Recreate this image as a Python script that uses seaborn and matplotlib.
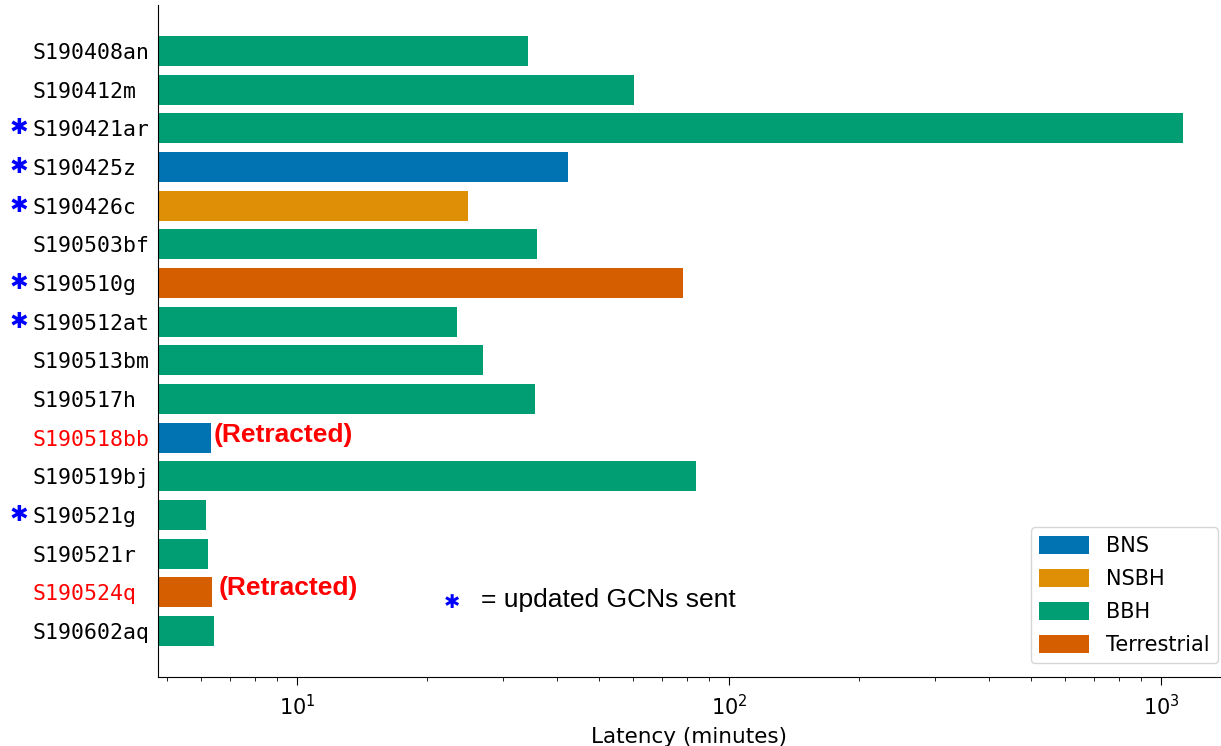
import numpy as np
import pandas as pd
import seaborn as sns
from matplotlib import pyplot as plt
from matplotlib.patches import Patch
import matplotlib.transforms as mtransforms

events = ['S190408an', 'S190412m', 'S190421ar', 'S190425z', 'S190426c',
          'S190503bf', 'S190510g', 'S190512at', 'S190513bm', 'S190517h',
          'S190518bb', 'S190519bj', 'S190521g', 'S190521r', 'S190524q',
          'S190602aq']
latency = [34.3, 60.3, 1125, 42.4, 24.9, 35.9, 78.3, 23.5, 27.0, 35.6,
           6.32, 84.0, 6.15, 6.22, 6.36, 6.43]
kind = ['BBH', 'BBH', 'BBH', 'BNS', 'NSBH', 'BBH', 'Terrestrial', 'BBH',
        'BBH', 'BBH', 'BNS', 'BBH', 'BBH', 'BBH', 'Terrestrial', 'BBH']
updated = ['S190421ar', 'S190425z', 'S190426c', 'S190510g', 'S190512at',
           'S190521g']
retracted = ['S190518bb', 'S190524q']
kinds = ['BNS', 'NSBH', 'BBH', 'Terrestrial']

pal = sns.color_palette('colorblind')
colors = dict(zip(kinds, [pal[0], pal[1], pal[2], pal[3]]))

df = pd.DataFrame({'event': events, 'latency': latency, 'kind': kind})

fig = plt.figure(figsize=(12.21, 7.46), dpi=100)
ax = fig.add_axes([158 / 1221, 69 / 746, 1062 / 1221, 672 / 746])
ax.set_xscale('log')
sns.barplot(data=df, x='latency', y='event', hue='kind', hue_order=kinds,
            palette=colors, dodge=False, orient='h', width=0.78,
            saturation=1, legend=False, ax=ax)

ax.set_xlim(4.77, 1370)
ax.set_ylim(16.19, -1.19)
ax.set_ylabel('')
ax.set_xlabel('Latency (minutes)', fontsize=15.5, labelpad=6)
sns.despine(ax=ax)
ax.tick_params(axis='y', length=0, pad=90)
ax.tick_params(axis='x', which='major', labelsize=15, length=6, pad=6)
ax.tick_params(axis='x', which='minor', length=3)
for lab in ax.get_yticklabels():
    lab.set_fontfamily('DejaVu Sans Mono')
    lab.set_fontsize(15.5)
    lab.set_horizontalalignment('left')
    if lab.get_text() in retracted:
        lab.set_color('red')

# asterisks for updated GCNs
trans = mtransforms.blended_transform_factory(fig.transFigure, ax.transData)
for ev in updated:
    i = events.index(ev)
    fig.text(19 / 1221, i, '\u2731', transform=trans, color='blue',
             fontsize=16, ha='center', va='center', family='DejaVu Sans')

ax.text(6.4, 9.93, '(Retracted)', color='red', fontsize=19, weight='bold',
        family='Liberation Sans', va='center')
ax.text(6.59, 13.89, '(Retracted)', color='red', fontsize=19, weight='bold',
        family='Liberation Sans', va='center')
ax.text(22.9, 14.27, '\u2731', color='blue', fontsize=14, ha='center',
        va='center', family='DejaVu Sans')
ax.text(26.7, 14.2, '= updated GCNs sent', color='black', fontsize=19,
        family='Liberation Sans', va='center')

handles = [Patch(facecolor=colors[k], label=k) for k in kinds]
ax.legend(handles=handles, loc='lower right', fontsize=15,
          bbox_to_anchor=(1.0, 0.017), borderaxespad=0.1, handlelength=2.4,
          handleheight=1.0, labelspacing=0.6)

fig.savefig('out.png', dpi=100)
